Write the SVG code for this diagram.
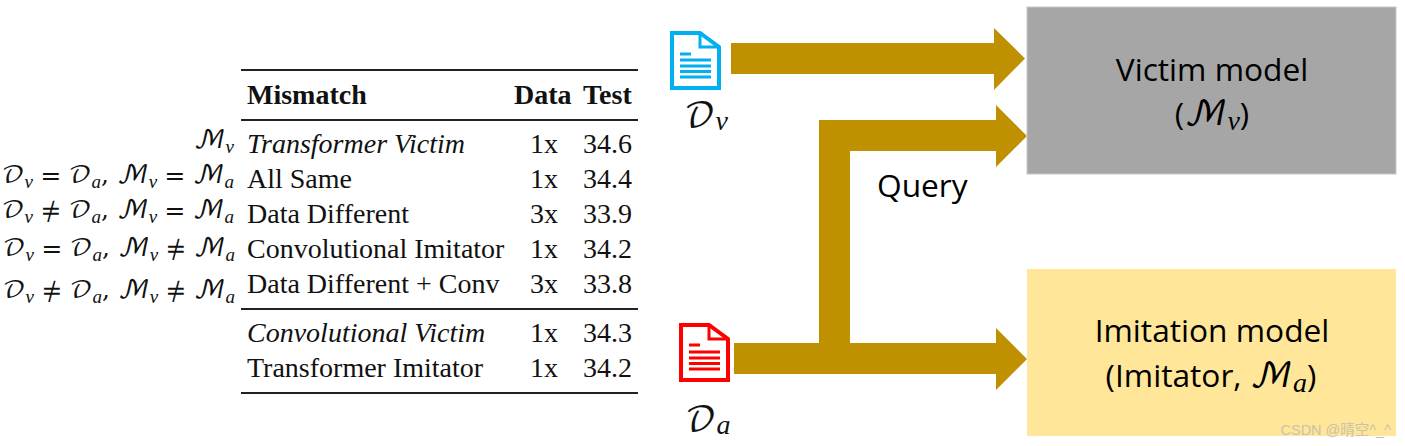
<svg xmlns="http://www.w3.org/2000/svg" width="1405" height="446" viewBox="0 0 1405 446">
<defs><style>
.t{font-family:"Liberation Serif",serif;font-size:28px;fill:#111}
.b{font-weight:bold}.i{font-style:italic}
.m{font-family:"DejaVu Math TeX Gyre","DejaVu Serif","Noto Sans CJK SC",serif;font-size:25px;fill:#111}
.s{font-family:"Liberation Serif",serif;font-size:19px;font-style:italic}
.l{font-family:"DejaVu Math TeX Gyre","DejaVu Serif",serif;font-size:34px}
.ls{font-family:"Liberation Serif",serif;font-size:28px;font-style:italic}
.c{font-family:"Open Sans","Noto Sans",sans-serif;font-size:31.700px;fill:#000}
.rule{stroke:#222;stroke-width:2}
.arrow{fill:#bf9000}
</style></defs>
<rect width="1405" height="446" fill="#fff"/>
<g id="table">
<line class="rule" x1="241" y1="70" x2="638" y2="70"/><line class="rule" x1="241" y1="120" x2="638" y2="120"/><line class="rule" x1="241" y1="309" x2="638" y2="309"/><line class="rule" x1="241" y1="393" x2="638" y2="393"/>
<text class="t b" x="247" y="104">Mismatch</text><text class="t b" x="514" y="104">Data</text><text class="t b" x="583" y="104">Test</text>
<text class="t i" x="247" y="153">Transformer Victim</text><text class="t" x="530" y="153">1x</text><text class="t" x="583" y="153">34.6</text>
<text class="t" x="247" y="188">All Same</text><text class="t" x="530" y="188">1x</text><text class="t" x="583" y="188">34.4</text>
<text class="t" x="247" y="223">Data Different</text><text class="t" x="530" y="223">3x</text><text class="t" x="583" y="223">33.9</text>
<text class="t" x="247" y="258">Convolutional Imitator</text><text class="t" x="530" y="258">1x</text><text class="t" x="583" y="258">34.2</text>
<text class="t" x="247" y="293">Data Different + Conv</text><text class="t" x="530" y="293">3x</text><text class="t" x="583" y="293">33.8</text>
<text class="t i" x="247" y="342">Convolutional Victim</text><text class="t" x="530" y="342">1x</text><text class="t" x="583" y="342">34.3</text>
<text class="t" x="247" y="377">Transformer Imitator</text><text class="t" x="530" y="377">1x</text><text class="t" x="583" y="377">34.2</text>
</g>
<g id="conditions">
<text class="m" x="234" y="148" text-anchor="end">ℳ<tspan class="s" dy="5">v</tspan></text>
<text class="m" x="234" y="183" text-anchor="end">𝒟<tspan class="s" dy="5">v</tspan><tspan dy="-5"> = 𝒟</tspan><tspan class="s" dy="5">a</tspan><tspan dy="-5">, ℳ</tspan><tspan class="s" dy="5">v</tspan><tspan dy="-5"> = ℳ</tspan><tspan class="s" dy="5">a</tspan></text>
<text class="m" x="234" y="218" text-anchor="end">𝒟<tspan class="s" dy="5">v</tspan><tspan dy="-5"> ≠ 𝒟</tspan><tspan class="s" dy="5">a</tspan><tspan dy="-5">, ℳ</tspan><tspan class="s" dy="5">v</tspan><tspan dy="-5"> = ℳ</tspan><tspan class="s" dy="5">a</tspan></text>
<text class="m" x="235" y="256" text-anchor="end">𝒟<tspan class="s" dy="5">v</tspan><tspan dy="-5"> = 𝒟</tspan><tspan class="s" dy="5">a</tspan><tspan dy="-5">, ℳ</tspan><tspan class="s" dy="5">v</tspan><tspan dy="-5"> ≠ ℳ</tspan><tspan class="s" dy="5">a</tspan></text>
<text class="m" x="235" y="298" text-anchor="end">𝒟<tspan class="s" dy="5">v</tspan><tspan dy="-5"> ≠ 𝒟</tspan><tspan class="s" dy="5">a</tspan><tspan dy="-5">, ℳ</tspan><tspan class="s" dy="5">v</tspan><tspan dy="-5"> ≠ ℳ</tspan><tspan class="s" dy="5">a</tspan></text>
</g>
<g id="connectors">
<polygon class="arrow" points="731,43 994,43 994,28 1025,58.500 994,90 994,74 731,74"/>
<polygon class="arrow" points="819,343 819,120 996,120 996,105 1027,136 996,167 996,151 850,151 850,343"/>
<polygon class="arrow" points="734,343 996,343 996,328 1027,359 996,390 996,374 734,374"/>
</g>
<g id="doc-v" fill="none" stroke="#00b0f0">
<path d="M672 33H700L719 47V88H672Z" fill="#fff" stroke-width="4"/>
<path d="M700 33V47H719" stroke-width="3"/>
<path d="M680 54H691M680 60H711M680 66H711M680 71.500H711M680 77H711" stroke-width="3"/>
</g>
<g id="doc-a" fill="none" stroke="#f00">
<path d="M681 325H709L728 339V380H681Z" fill="#fff" stroke-width="4"/>
<path d="M709 325V339H728" stroke-width="3"/>
<path d="M689 345H700M689 352H720M689 358H720M689 363.500H720M689 369H720" stroke-width="3"/>
</g>
<g id="label-dv"><text class="l" x="684" y="127" fill="#111">𝒟<tspan class="ls" dy="3">v</tspan></text></g>
<g id="label-da"><text class="l" x="685" y="431" fill="#111">𝒟<tspan class="ls" dy="3">a</tspan></text></g>
<g id="label-query"><text class="c" x="877" y="197">Query</text></g>
<g id="victim">
<rect x="1027" y="7" width="369" height="167" fill="#a6a6a6" stroke="#c8c8c8" stroke-width="1"/>
<text class="c" x="1212" y="81" text-anchor="middle">Victim model</text>
<text class="c" x="1212" y="125" text-anchor="middle">(<tspan class="l">ℳ</tspan><tspan class="ls" dy="5">v</tspan><tspan dy="-5">)</tspan></text>
</g>
<g id="imitator">
<rect x="1027" y="269" width="369" height="167" fill="#ffe699"/>
<text class="c" x="1212" y="342" text-anchor="middle">Imitation model</text>
<text class="c" x="1211" y="387" text-anchor="middle">(Imitator, <tspan class="l">ℳ</tspan><tspan class="ls" dy="5">a</tspan><tspan dy="-5">)</tspan></text>
<text x="1391" y="435" text-anchor="end" style="font-family:'Liberation Sans','Noto Sans CJK SC',sans-serif;font-size:14.500px;fill:#c9c3a8">CSDN @晴空^_^</text>
</g>
</svg>
